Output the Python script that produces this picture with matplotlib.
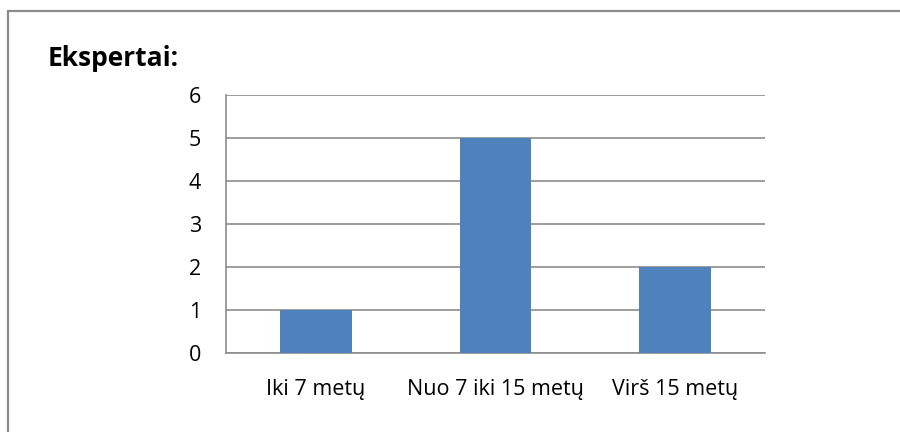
import matplotlib.pyplot as plt
from matplotlib.patches import Rectangle

categories = ["Iki 7 metų", "Nuo 7 iki 15 metų", "Virš 15 metų"]
values = [1, 5, 2]
yticks = [0, 1, 2, 3, 4, 5, 6]
title = "Ekspertai:"

plt.rcParams['font.family'] = ['Open Sans', 'DejaVu Sans']

fig = plt.figure(figsize=(9, 4.32), dpi=100)
# outer frame of the chart (cut off on right and bottom)
fig.patches.append(Rectangle((8/900, -0.1), 1.2, 1 - 11/432 + 0.1, transform=fig.transFigure,
                             fill=False, edgecolor='#8a8a8a', linewidth=1.6))

ax = fig.add_axes([226/900, 1 - 353/432, (765 - 226)/900, (353 - 95)/432])
x = range(len(categories))
ax.bar(x, values, width=0.4, color='#4F81BD', zorder=3)
ax.set_xlim(-0.5, 2.5)
ax.set_ylim(0, 6)
ax.set_yticks(yticks)
ax.set_xticks(list(x))
ax.set_xticklabels(categories, fontsize=15.5)
ax.tick_params(axis='y', labelsize=15.5, length=0, pad=18)
ax.tick_params(axis='x', length=0, pad=19)
ax.yaxis.grid(True, color='#8c8c8c', linewidth=1.2, zorder=0)
for s in ['top', 'right']:
    ax.spines[s].set_visible(False)
for s in ['left', 'bottom']:
    ax.spines[s].set_color('#8c8c8c')
    ax.spines[s].set_linewidth(1.2)

fig.text(48/900, 1 - 58/432, title, fontsize=19, fontweight='bold', va='center', ha='left')

fig.savefig('out.png', dpi=100)
